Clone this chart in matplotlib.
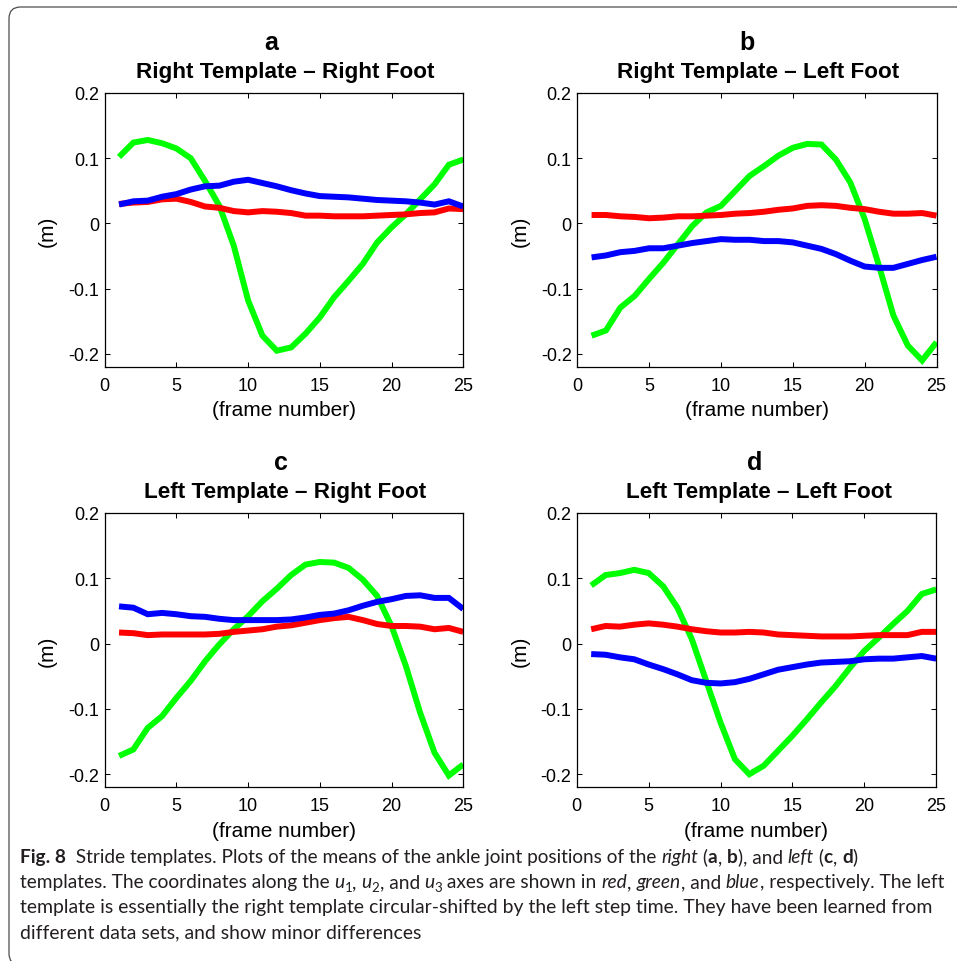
import numpy as np
import matplotlib
matplotlib.use("Agg")
import matplotlib.pyplot as plt
from matplotlib.patches import FancyBboxPatch
from matplotlib import font_manager as fm

# ---------------- data ----------------
frames = list(range(1, 26))

a_red = [0.030, 0.032, 0.033, 0.037, 0.038, 0.033, 0.026, 0.024, 0.019, 0.017,
         0.019, 0.018, 0.016, 0.012, 0.012, 0.011, 0.011, 0.011, 0.012, 0.013,
         0.014, 0.016, 0.017, 0.023, 0.022]
a_green = [0.102, 0.124, 0.128, 0.123, 0.115, 0.100, 0.065, 0.027, -0.034, -0.118,
           -0.172, -0.195, -0.190, -0.169, -0.144, -0.113, -0.088, -0.062, -0.029, -0.006,
           0.014, 0.037, 0.060, 0.090, 0.098]
a_blue = [0.029, 0.034, 0.035, 0.041, 0.045, 0.052, 0.057, 0.058, 0.064, 0.067,
          0.062, 0.057, 0.051, 0.046, 0.042, 0.041, 0.040, 0.038, 0.036, 0.035,
          0.034, 0.032, 0.029, 0.034, 0.026]

b_red = [0.013, 0.013, 0.011, 0.010, 0.008, 0.009, 0.011, 0.011, 0.012, 0.013,
         0.015, 0.016, 0.018, 0.021, 0.023, 0.027, 0.028, 0.027, 0.024, 0.022,
         0.018, 0.015, 0.015, 0.016, 0.012]
b_green = [-0.172, -0.164, -0.129, -0.111, -0.085, -0.060, -0.032, -0.004, 0.017, 0.027,
           0.050, 0.073, 0.088, 0.104, 0.116, 0.122, 0.121, 0.098, 0.063, 0.007,
           -0.065, -0.141, -0.187, -0.210, -0.182]
b_blue = [-0.052, -0.049, -0.044, -0.042, -0.038, -0.038, -0.034, -0.030, -0.027, -0.024,
          -0.025, -0.025, -0.027, -0.027, -0.029, -0.034, -0.039, -0.047, -0.057, -0.066,
          -0.068, -0.068, -0.062, -0.056, -0.051]

c_red = [0.017, 0.016, 0.013, 0.014, 0.014, 0.014, 0.014, 0.015, 0.018, 0.020,
         0.022, 0.026, 0.028, 0.032, 0.036, 0.039, 0.041, 0.036, 0.030, 0.027,
         0.027, 0.026, 0.022, 0.024, 0.018]
c_green = [-0.172, -0.162, -0.129, -0.111, -0.083, -0.057, -0.027, -0.001, 0.022, 0.042,
           0.065, 0.084, 0.105, 0.121, 0.125, 0.124, 0.116, 0.098, 0.073, 0.027,
           -0.034, -0.106, -0.167, -0.202, -0.185]
c_blue = [0.057, 0.055, 0.045, 0.047, 0.045, 0.042, 0.041, 0.038, 0.036, 0.036,
          0.036, 0.036, 0.037, 0.040, 0.044, 0.046, 0.051, 0.058, 0.064, 0.068,
          0.073, 0.074, 0.070, 0.070, 0.053]

d_red = [0.022, 0.027, 0.026, 0.029, 0.031, 0.029, 0.026, 0.022, 0.019, 0.017,
         0.017, 0.018, 0.017, 0.014, 0.013, 0.012, 0.011, 0.011, 0.011, 0.012,
         0.013, 0.013, 0.013, 0.018, 0.018]
d_green = [0.089, 0.105, 0.108, 0.113, 0.108, 0.088, 0.055, 0.007, -0.057, -0.121,
           -0.177, -0.200, -0.187, -0.164, -0.141, -0.116, -0.090, -0.065, -0.037, -0.011,
           0.009, 0.030, 0.050, 0.076, 0.083]
d_blue = [-0.016, -0.017, -0.021, -0.024, -0.032, -0.039, -0.047, -0.056, -0.060, -0.061,
          -0.059, -0.054, -0.047, -0.040, -0.036, -0.032, -0.029, -0.028, -0.027, -0.024,
          -0.023, -0.023, -0.021, -0.019, -0.023]

panel_letters = ["a", "b", "c", "d"]
panel_titles = ["Right Template \u2013 Right Foot", "Right Template \u2013 Left Foot",
                "Left Template \u2013 Right Foot", "Left Template \u2013 Left Foot"]
xticks = [0, 5, 10, 15, 20, 25]
yticks = [-0.2, -0.1, 0, 0.1, 0.2]
ytick_labels = ["-0.2", "-0.1", "0", "0.1", "0.2"]
xlabel_text = "(frame number)"
ylabel_text = "(m)"

# ---------------- style ----------------
W, H = 957, 962
plt.rcParams["font.family"] = ["Liberation Sans", "DejaVu Sans"]
plt.rcParams["axes.unicode_minus"] = False

fig = plt.figure(figsize=(W / 100, H / 100), dpi=100)
fig.patch.set_facecolor("white")


def fx(x):
    return x / W


def fy(y):
    return 1 - y / H


# pixel rects: left, top, right, bottom
rects = [(104.7, 94, 463.2, 368), (577.2, 94, 936.5, 368),
         (104.7, 514, 463.2, 788.3), (576.8, 514, 936.2, 788.3)]
data = [(a_red, a_green, a_blue), (b_red, b_green, b_blue),
        (c_red, c_green, c_blue), (d_red, d_green, d_blue)]
letter_x = [271, 747, 281, 755]
title_x = [285, 758, 285.5, 758.5]

for i, ((l, t, r, b), (red, green, blue)) in enumerate(zip(rects, data)):
    ax = fig.add_axes([fx(l), fy(b), (r - l) / W, (b - t) / H])
    ax.plot(frames, green, color=(0, 1, 0), lw=4.3, solid_capstyle="butt", solid_joinstyle="miter")
    ax.plot(frames, red, color=(1, 0, 0), lw=4.3, solid_capstyle="butt", solid_joinstyle="miter")
    ax.plot(frames, blue, color=(0, 0, 1), lw=4.3, solid_capstyle="butt", solid_joinstyle="miter")
    ax.set_xlim(0, 25)
    ax.set_ylim(-0.22, 0.2)
    ax.set_xticks(xticks)
    ax.set_xticklabels([str(v) for v in xticks])
    ax.set_yticks(yticks)
    ax.set_yticklabels(ytick_labels)
    ax.tick_params(direction="in", length=3.6, width=0.75, top=True, right=True,
                   labelsize=13, color="black")
    ax.tick_params(axis="x", pad=7)
    ax.tick_params(axis="y", pad=4)
    for s in ax.spines.values():
        s.set_linewidth(0.9)
        s.set_color("black")
    cx = (l + r) / 2
    fig.text(fx(letter_x[i]), fy(t - 44), panel_letters[i], ha="center", va="baseline",
             fontsize=18, fontweight="bold")
    fig.text(fx(title_x[i]), fy(t - 16), panel_titles[i], ha="center", va="baseline",
             fontsize=16.2, fontweight="bold")
    fig.text(fx(cx), fy(b + 43), xlabel_text, ha="center", va="center", fontsize=15)
    fig.text(fx(l - 57), fy((t + b) / 2), ylabel_text, ha="center", va="center",
             rotation=90, fontsize=15)

# ---------------- border ----------------
border = FancyBboxPatch((fx(9), fy(966)), (980 - 9) / W, (966 - 8) / H,
                        boxstyle="round,pad=0,rounding_size=0.012",
                        transform=fig.transFigure, fill=False, ec="#4d4d4d", lw=0.9)
fig.add_artist(border)

# ---------------- caption ----------------
names = {f.name for f in fm.fontManager.ttflist}
capfont = "DejaVu Sans"
for cand in ["Lato", "Open Sans", "Noto Sans", "Liberation Sans"]:
    if cand in names:
        capfont = cand
        break

renderer = fig.canvas.get_renderer()
cap_color = "#231f20"


def measure(s, size, weight="normal", style="normal"):
    t1 = fig.text(0, 0, s + "|", fontsize=size, family=capfont, fontweight=weight, fontstyle=style)
    t2 = fig.text(0, 0, "|", fontsize=size, family=capfont, fontweight=weight, fontstyle=style)
    w = t1.get_window_extent(renderer).width - t2.get_window_extent(renderer).width
    t1.remove()
    t2.remove()
    return w


N, B, I, S = "n", "b", "i", "s"
cap_lines = [
    [("Fig. 8", B), ("  Stride templates. Plots of the means of the ankle joint positions of the ", N),
     ("right", I), (" (", N), ("a", B), (", ", N), ("b", B), ("), and ", N), ("left", I),
     (" (", N), ("c", B), (", ", N), ("d", B), (")", N)],
    [("templates. The coordinates along the ", N), ("u", I), ("1", S), (", ", N), ("u", I), ("2", S),
     (", and ", N), ("u", I), ("3", S), (" axes are shown in ", N), ("red", I), (", ", N),
     ("green", I), (", and ", N), ("blue", I), (", respectively. The left", N)],
    [("template is essentially the right template circular-shifted by the left step time. "
      "They have been learned from", N)],
    [("different data sets, and show minor differences", N)],
]
line_targets = [842, 926, 915, None]
baselines = [863, 888, 913, 938]


def seg_props(kind, size):
    weight = "bold" if kind == B else "normal"
    style = "italic" if kind == I else "normal"
    sz = size * (0.7 if kind == S else 1.0)
    return weight, style, sz


def line_width(line, size):
    tot = 0
    for txt, kind in line:
        weight, style, sz = seg_props(kind, size)
        tot += measure(txt, sz, weight, style)
    return tot


base_size = 10 * 915 / line_width(cap_lines[2], 10)

for line, yb, target in zip(cap_lines, baselines, line_targets):
    size = base_size
    if target is not None:
        size = 10 * target / line_width(line, 10)
    x = 20.0
    for txt, kind in line:
        weight, style, sz = seg_props(kind, size)
        dy = 4 if kind == S else 0
        fig.text(fx(x), fy(yb + dy), txt, fontsize=sz, family=capfont, fontweight=weight,
                 fontstyle=style, color=cap_color, ha="left", va="baseline")
        x += measure(txt, sz, weight, style)

fig.savefig("out.png", dpi=100, facecolor="white")
